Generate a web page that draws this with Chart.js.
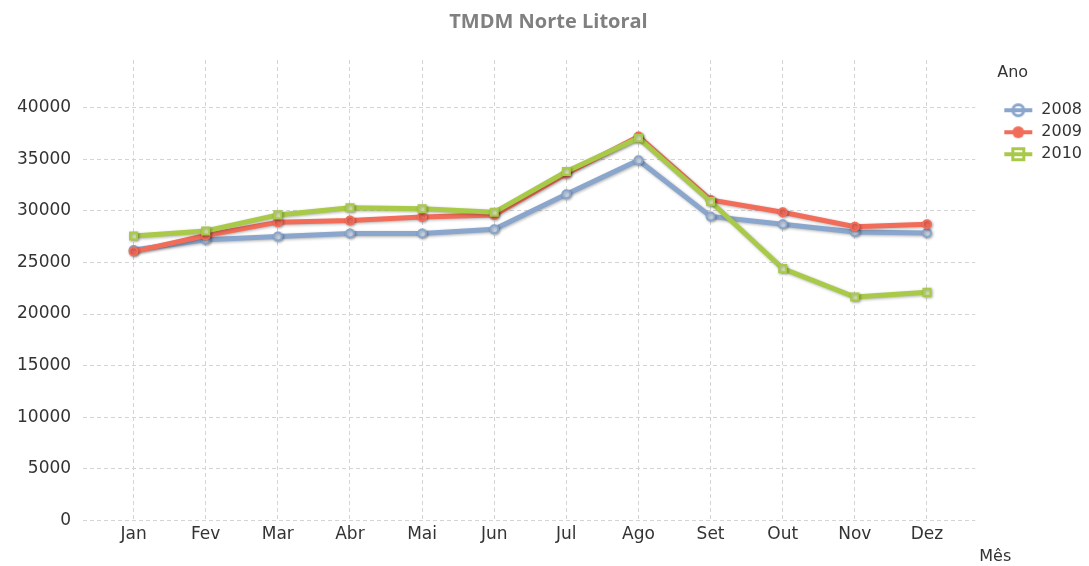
<!DOCTYPE html>
<html>
<head>
<meta charset="utf-8">
<script src="https://cdn.jsdelivr.net/npm/chart.js@4/dist/chart.umd.min.js"></script>
<style>
  html, body { margin: 0; padding: 0; background: #fff; }
  #wrap { width: 1089px; height: 566px; }
</style>
</head>
<body>
<div id="wrap"><canvas id="lineChart"></canvas></div>
<script>
// data
const months = ['Jan', 'Fev', 'Mar', 'Abr', 'Mai', 'Jun', 'Jul', 'Ago', 'Set', 'Out', 'Nov', 'Dez'];
const years = ['2008', '2009', '2010'];
const values2008 = [26200, 27200, 27500, 27800, 27800, 28200, 31600, 34900, 29450, 28700, 27950, 27850];
const values2009 = [26050, 27600, 28900, 29050, 29400, 29600, 33600, 37200, 31050, 29850, 28450, 28700];
const values2010 = [27550, 28050, 29600, 30300, 30200, 29850, 33800, 37050, 30900, 24400, 21650, 22100];
const yTicks = [0, 5000, 10000, 15000, 20000, 25000, 30000, 35000, 40000];
const chartTitle = 'TMDM Norte Litoral';
const legendTitle = 'Ano';
const xAxisName = 'Mês';

const blue = 'rgb(138,166,204)';
const red = 'rgb(242,108,90)';
const green = 'rgb(168,202,72)';
const fontFamily = '"DejaVu Sans", Verdana, sans-serif';

function toPoints(vals) {
    return vals.map((v, i) => ({ x: i, y: v }));
}

// legend icons: short line with the marker on it
const iconWidth = 30;
function legendIcon(color, shape) {
    const c = document.createElement('canvas');
    c.width = iconWidth;
    c.height = 16;
    const g = c.getContext('2d');
    g.strokeStyle = color;
    g.fillStyle = color;
    g.lineWidth = 4;
    g.beginPath();
    g.moveTo(1, 8);
    g.lineTo(iconWidth - 1, 8);
    g.stroke();
    g.lineWidth = 3;
    const cx = iconWidth / 2;
    if (shape === 'ring') {
        g.beginPath();
        g.arc(cx, 8, 5.5, 0, Math.PI * 2);
        g.stroke();
    } else if (shape === 'dot') {
        g.beginPath();
        g.arc(cx, 8, 6, 0, Math.PI * 2);
        g.fill();
    } else {
        g.strokeRect(cx - 5.5, 2.5, 11, 11);
    }
    return c;
}
const legendIcons = [legendIcon(blue, 'ring'), legendIcon(red, 'dot'), legendIcon(green, 'square')];

const shadowPlugin = {
    id: 'lineShadow',
    beforeDatasetsDraw(chart) {
        const ctx = chart.ctx;
        ctx.save();
        ctx.shadowColor = 'rgba(0,0,0,0.3)';
        ctx.shadowBlur = 3;
        ctx.shadowOffsetX = 1;
        ctx.shadowOffsetY = 1;
    },
    afterDatasetsDraw(chart) {
        chart.ctx.restore();
    }
};

const axisNamePlugin = {
    id: 'axisName',
    afterDraw(chart) {
        const ctx = chart.ctx;
        ctx.save();
        ctx.font = '16px ' + fontFamily;
        ctx.fillStyle = '#333';
        ctx.textBaseline = 'middle';
        ctx.textAlign = 'left';
        ctx.fillText(xAxisName, chart.chartArea.right + 4, chart.height - 9);
        ctx.restore();
    }
};

const ctx = document.getElementById('lineChart').getContext('2d');
new Chart(ctx, {
    type: 'line',
    data: {
        datasets: [
            {
                label: years[0],
                data: toPoints(values2008),
                borderColor: blue,
                backgroundColor: 'rgb(200,214,232)',
                pointBorderColor: blue,
                pointStyle: 'circle',
                pointRadius: 4,
                order: 2
            },
            {
                label: years[1],
                data: toPoints(values2009),
                borderColor: red,
                backgroundColor: red,
                pointBorderColor: red,
                pointStyle: 'circle',
                pointRadius: 4,
                order: 1
            },
            {
                label: years[2],
                data: toPoints(values2010),
                borderColor: green,
                backgroundColor: 'rgb(214,230,170)',
                pointBorderColor: green,
                pointStyle: 'rect',
                pointRadius: 5,
                order: 0
            }
        ]
    },
    options: {
        responsive: true,
        maintainAspectRatio: false,
        animation: false,
        elements: {
            line: { borderWidth: 5, tension: 0 },
            point: { borderWidth: 2, hoverRadius: 5 }
        },
        layout: {
            padding: { left: 5, right: -3, top: 8, bottom: 17 }
        },
        plugins: {
            title: {
                display: true,
                text: chartTitle,
                color: '#808080',
                font: { family: '"Open Sans", sans-serif', size: 20, weight: 'bold' },
                padding: { top: 2, bottom: 26 }
            },
            legend: {
                position: 'right',
                align: 'start',
                fullSize: false,
                title: {
                    display: true,
                    text: legendTitle,
                    position: 'start',
                    color: '#333',
                    font: { family: fontFamily, size: 16 },
                    padding: { top: 5, bottom: 12 }
                },
                labels: {
                    usePointStyle: true,
                    pointStyleWidth: iconWidth,
                    color: '#333',
                    font: { family: fontFamily, size: 16 },
                    padding: 6,
                    generateLabels(chart) {
                        const items = Chart.defaults.plugins.legend.labels.generateLabels(chart);
                        items.sort((a, b) => a.datasetIndex - b.datasetIndex);
                        items.forEach(item => { item.pointStyle = legendIcons[item.datasetIndex]; });
                        return items;
                    }
                }
            },
            tooltip: { enabled: false }
        },
        scales: {
            x: {
                type: 'linear',
                min: -0.7,
                max: 11.67,
                afterBuildTicks(scale) {
                    scale.ticks = months.map((m, i) => ({ value: i }));
                },
                ticks: {
                    callback: (value) => months[value],
                    color: '#333',
                    font: { family: fontFamily, size: 17 },
                    padding: 4,
                    maxRotation: 0,
                    autoSkip: false
                },
                grid: {
                    color: '#d4d4d4',
                    drawTicks: false
                },
                border: { display: false, dash: [4, 3] }
            },
            y: {
                min: 0,
                max: 44600,
                afterBuildTicks(scale) {
                    scale.ticks = yTicks.map(v => ({ value: v }));
                },
                ticks: {
                    callback: (value) => String(value),
                    color: '#333',
                    font: { family: fontFamily, size: 17 },
                    padding: 12
                },
                grid: {
                    color: '#d4d4d4',
                    drawTicks: false
                },
                border: { display: false, dash: [4, 3] }
            },
            // empty right axis: keeps the gap between the plot and the legend
            gap: {
                type: 'linear',
                position: 'right',
                grid: { display: false },
                ticks: { display: false },
                border: { display: false },
                afterFit(scale) {
                    scale.width = 22;
                }
            }
        }
    },
    plugins: [shadowPlugin, axisNamePlugin]
});
</script>
</body>
</html>
